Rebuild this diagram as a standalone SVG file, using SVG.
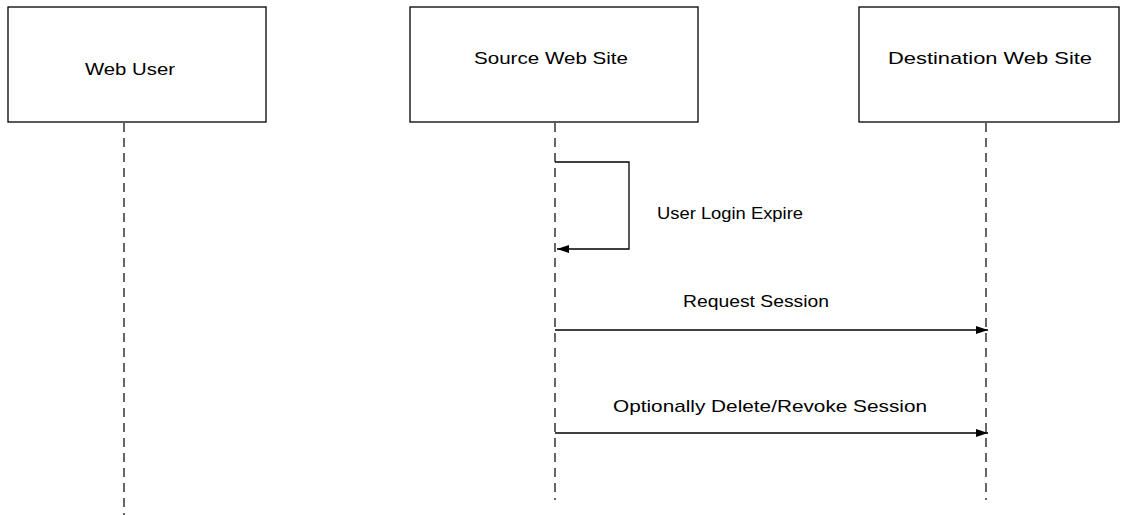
<svg xmlns="http://www.w3.org/2000/svg" width="1125" height="515" viewBox="0 0 1125 515">
<style>
.box{fill:#fff;stroke:#000;stroke-width:1.3}
.life{stroke:#000;stroke-width:1.2;stroke-dasharray:9,6;fill:none}
.msg{stroke:#000;stroke-width:1.3;fill:none}
text{font-family:"Liberation Sans",Arial,sans-serif;font-size:17px;fill:#000;text-anchor:middle}
.lbl{text-anchor:start}
</style>
<defs>
<marker id="ah" viewBox="0 0 12 8" refX="12" refY="4" markerWidth="12" markerHeight="8" markerUnits="userSpaceOnUse" orient="auto">
<path d="M0,0 L12,4 L0,8 Z" fill="#000"/>
</marker>
</defs>
<rect width="1125" height="515" fill="#fff"/>
<g id="webuser">
<rect class="box" x="8" y="7" width="258" height="115"/>
<text x="130" y="75" textLength="90" lengthAdjust="spacingAndGlyphs">Web User</text>
</g>
<g id="source">
<rect class="box" x="410" y="7" width="288" height="115"/>
<text x="551" y="64" textLength="154" lengthAdjust="spacingAndGlyphs">Source Web Site</text>
</g>
<g id="destination">
<rect class="box" x="859" y="7" width="260" height="115"/>
<text x="990" y="64" textLength="204" lengthAdjust="spacingAndGlyphs">Destination Web Site</text>
</g>
<g id="connectors">
<line class="life" x1="124" y1="123" x2="124" y2="515"/>
<line class="life" x1="555" y1="123" x2="555" y2="500"/>
<line class="life" x1="986" y1="123" x2="986" y2="500"/>
<polyline class="msg" points="555,162 629,162 629,249 557,249" marker-end="url(#ah)"/>
<text class="lbl" x="657" y="219" textLength="146" lengthAdjust="spacingAndGlyphs">User Login Expire</text>
<line class="msg" x1="555" y1="330" x2="988" y2="330" marker-end="url(#ah)"/>
<text x="756" y="307" textLength="146" lengthAdjust="spacingAndGlyphs">Request Session</text>
<line class="msg" x1="555" y1="433" x2="988" y2="433" marker-end="url(#ah)"/>
<text x="770" y="412" textLength="314" lengthAdjust="spacingAndGlyphs">Optionally Delete/Revoke Session</text>
</g>
</svg>
